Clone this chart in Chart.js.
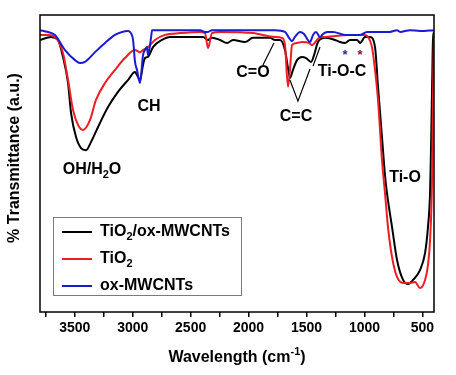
<!DOCTYPE html>
<html><head><meta charset="utf-8">
<script src="https://cdn.jsdelivr.net/npm/chart.js@4.4.0/dist/chart.umd.min.js"></script>
<style>html,body{margin:0;padding:0;background:#fff}#wrap{width:456px;height:375px;position:relative}</style>
</head><body><div id="wrap"><canvas id="c" width="456" height="375"></canvas></div>
<script>
// ---- data ----
const seriesNames = ['TiO2/ox-MWCNTs', 'TiO2', 'ox-MWCNTs'];

const blackWn = [3800,3705,3645,3602,3558,3532,3489,3446,3403,3360,3299,3213,3127,3041,2980,2963,2937,2911,2894,2868,2825,2747,2678,2531,2393,2350,2316,2247,2186,2134,2031,1962,1815,1772,1729,1686,1660,1643,1617,1582,1539,1504,1461,1435,1401,1340,1254,1211,1168,1125,1064,1038,995,952,909,883,849,823,806,762,719,667,624,581,521,477,452,434,426,417,409,400];
const blackT  = [91.6,92.6,91.6,85.9,77.1,67.0,58.9,55.2,54.5,57.2,62.3,69.0,74.1,78.1,80.8,79.8,78.1,83.2,85.5,85.9,89.2,91.6,92.6,92.6,92.6,91.6,92.3,91.6,90.6,91.6,90.9,92.3,92.3,91.6,91.6,88.2,82.2,78.8,81.5,84.8,85.9,85.5,84.2,86.5,90.9,92.3,91.6,90.9,90.6,91.6,91.6,90.6,92.6,92.6,89.2,75.8,59.0,46.1,40.1,28.6,17.5,10.8,9.4,10.8,14.1,19.9,28.6,40.1,54.5,74.7,91.6,94.3];

const redWn = [3800,3731,3662,3602,3558,3515,3472,3429,3369,3317,3239,3153,3067,2980,2937,2911,2868,2808,2721,2592,2419,2376,2350,2316,2247,1962,1772,1712,1686,1660,1643,1625,1582,1539,1479,1453,1392,1340,1125,995,969,935,909,883,849,823,797,762,719,667,607,564,521,477,452,434,417,409,400];
const redT  = [93.3,93.3,92.3,87.2,78.1,68.0,63.0,61.3,64.6,71.4,77.1,81.5,85.5,88.2,87.5,88.2,89.2,91.6,93.3,93.9,94.3,93.9,88.9,93.9,94.3,93.9,92.6,92.3,89.9,75.8,81.5,89.9,90.6,90.9,90.6,89.9,92.3,92.6,93.3,93.3,92.6,89.2,81.5,71.4,51.2,40.1,28.6,18.5,11.8,9.8,9.8,10.1,8.1,10.8,15.8,24.2,44.4,71.4,93.3];

const blueWn = [3800,3731,3671,3584,3498,3455,3412,3325,3239,3153,3092,3041,3015,2997,2980,2963,2937,2911,2894,2877,2868,2842,2833,2678,2419,2376,2350,2316,1772,1686,1651,1625,1600,1556,1522,1470,1444,1418,1384,1358,1323,1271,1168,1038,978,926,780,719,693,607,521,400];
const blueT  = [94.9,94.3,93.3,88.2,84.8,83.8,84.2,87.5,90.6,93.3,94.3,94.6,93.9,91.6,84.2,81.5,77.1,86.5,88.2,89.2,86.5,92.3,94.9,94.9,94.9,94.3,94.3,94.9,94.9,94.3,92.3,91.2,92.6,94.3,93.6,90.9,93.3,94.3,92.6,93.6,94.3,94.3,93.3,93.3,94.3,94.3,94.3,94.9,94.3,94.9,94.6,94.9];

const xTickValues  = [3750,3500,3250,3000,2750,2500,2250,2000,1750,1500,1250,1000,750,500];
const xLabelValues = [3500,3000,2500,2000,1500,1000,500];

// band annotations (data coordinates: wavenumber, transmittance)
const annotTexts = ['CH','C=O','C=C','Ti-O-C','Ti-O'];
const annotWn    = [2859,1962,1591,1194,650];
const annotT     = [69.0,80.5,65.7,81.1,45.1];
const ohWn = 3351, ohT = 47.8;
const starWn = [1168,1038];
const starT  = [87.5,87.5];
// pointer lines: each is a list of [wn, T] vertices
const pointerLines = [
  [[1876,83.2],[1781,90.6]],
  [[1643,78.1],[1574,71.0],[1470,81.8]],
  [[1444,82.8],[1384,89.2]]
];

// ---- styles ----
const COLORS = ['#000000', '#ee1c24', '#1a1ad0'];
const STAR_COLORS = ['#1f2f8f', '#8a1040'];
const FONT = '"Liberation Sans", Arial, Helvetica, sans-serif';

function pts(w, t) { return w.map((v, i) => ({x: v, y: t[i]})); }

function drawRich(ctx, parts, x, y, size, align) {
  const fontOf = m => 'bold ' + (m === 0 ? size : Math.round(size * 0.68)) + 'px ' + FONT;
  let total = 0;
  parts.forEach(p => { ctx.font = fontOf(p[1]); total += ctx.measureText(p[0]).width; });
  let cx = align === 'center' ? x - total / 2 : x;
  ctx.textAlign = 'left';
  ctx.textBaseline = 'middle';
  parts.forEach(p => {
    ctx.font = fontOf(p[1]);
    const dy = p[1] === 1 ? size * 0.32 : (p[1] === 2 ? -size * 0.38 : 0);
    ctx.fillText(p[0], cx, y + dy);
    cx += ctx.measureText(p[0]).width;
  });
}

const extras = {
  id: 'extras',
  afterDraw(chart) {
    const ctx = chart.ctx, a = chart.chartArea, xs = chart.scales.x, ys = chart.scales.y;
    ctx.save();
    // frame
    ctx.strokeStyle = '#000'; ctx.lineWidth = 1.5;
    ctx.strokeRect(a.left, a.top, a.right - a.left, a.bottom - a.top);
    ctx.fillStyle = '#000';
    // annotations
    annotTexts.forEach((t, i) => {
      drawRich(ctx, [[t, 0]], xs.getPixelForValue(annotWn[i]), ys.getPixelForValue(annotT[i]), 16, 'center');
    });
    drawRich(ctx, [['OH/H', 0], ['2', 1], ['O', 0]], xs.getPixelForValue(ohWn), ys.getPixelForValue(ohT), 16, 'center');
    ctx.lineWidth = 1.2; ctx.strokeStyle = '#000';
    pointerLines.forEach(line => {
      ctx.beginPath();
      line.forEach((p, j) => {
        const px = xs.getPixelForValue(p[0]), py = ys.getPixelForValue(p[1]);
        if (j === 0) ctx.moveTo(px, py); else ctx.lineTo(px, py);
      });
      ctx.stroke();
    });
    starWn.forEach((w, i) => {
      ctx.fillStyle = STAR_COLORS[i];
      ctx.font = 'bold 13px ' + FONT;
      ctx.textAlign = 'center'; ctx.textBaseline = 'middle';
      ctx.fillText('*', xs.getPixelForValue(w), ys.getPixelForValue(starT[i]) + 3);
    });
    // legend
    const lx = a.left + 13, ly = a.top + 202, lw = 188, lh = 78;
    ctx.strokeStyle = '#7a7a7a'; ctx.lineWidth = 1;
    ctx.strokeRect(lx + 0.5, ly + 0.5, lw, lh);
    const rows = [
      [['TiO', 0], ['2', 1], ['/ox-MWCNTs', 0]],
      [['TiO', 0], ['2', 1]],
      [['ox-MWCNTs', 0]]
    ];
    rows.forEach((parts, i) => {
      const ry = ly + 15 + i * 27;
      ctx.strokeStyle = COLORS[i]; ctx.lineWidth = 2;
      ctx.beginPath(); ctx.moveTo(lx + 9, ry); ctx.lineTo(lx + 39, ry); ctx.stroke();
      ctx.fillStyle = '#000';
      drawRich(ctx, parts, lx + 47, ry, 16, 'left');
    });
    // axis titles
    ctx.fillStyle = '#000';
    drawRich(ctx, [['Wavelength (cm', 0], ['-1', 2], [')', 0]], (a.left + a.right) / 2, 358, 16, 'center');
    ctx.translate(15, 158);
    ctx.rotate(-Math.PI / 2);
    drawRich(ctx, [['% Transmittance (a.u.)', 0]], 0, 0, 16, 'center');
    ctx.restore();
  }
};

new Chart(document.getElementById('c'), {
  type: 'line',
  data: {
    datasets: [
      {label: seriesNames[0], data: pts(blackWn, blackT), borderColor: COLORS[0], order: 3},
      {label: seriesNames[1], data: pts(redWn, redT), borderColor: COLORS[1], order: 2},
      {label: seriesNames[2], data: pts(blueWn, blueT), borderColor: COLORS[2], order: 1}
    ]
  },
  options: {
    responsive: false,
    devicePixelRatio: 1,
    animation: false,
    parsing: true,
    elements: {
      line: {borderWidth: 2, cubicInterpolationMode: 'monotone', fill: false},
      point: {radius: 0, hoverRadius: 0}
    },
    layout: {padding: {left: 40, right: 22, top: 15, bottom: 0}},
    plugins: {legend: {display: false}, tooltip: {enabled: false}},
    scales: {
      x: {
        type: 'linear', reverse: true, min: 400, max: 3800,
        afterBuildTicks: s => { s.ticks = xTickValues.map(v => ({value: v})); },
        afterFit: s => { s.height = 63; },
        grid: {display: true, drawOnChartArea: false, drawTicks: true, tickLength: 5, color: '#000', lineWidth: 1.5},
        border: {display: false},
        ticks: {
          autoSkip: false, maxRotation: 0, minRotation: 0, padding: 3, color: '#000',
          font: {family: FONT, size: 14, weight: 'bold'},
          callback: v => xLabelValues.includes(v) ? String(v) : ''
        }
      },
      y: {type: 'linear', min: 0, max: 100, display: false}
    }
  },
  plugins: [extras]
});
</script>
</body></html>
